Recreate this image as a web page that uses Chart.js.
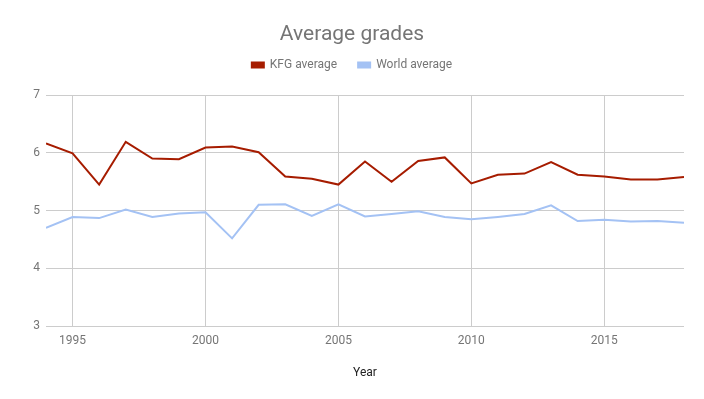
<!DOCTYPE html>
<html>
<head>
<meta charset="utf-8">
<script src="https://cdn.jsdelivr.net/npm/chart.js@4"></script>
<style>
  html, body { margin: 0; padding: 0; background: #fff; }
  #wrap { width: 704px; height: 399px; }
</style>
</head>
<body>
<div id="wrap"><canvas id="myChart"></canvas></div>
<script>
// Data
const years = [1994, 1995, 1996, 1997, 1998, 1999, 2000, 2001, 2002, 2003, 2004, 2005,
  2006, 2007, 2008, 2009, 2010, 2011, 2012, 2013, 2014, 2015, 2016, 2017, 2018]
const kfgAverage = [6.16, 5.99, 5.45, 6.19, 5.90, 5.89, 6.09, 6.11, 6.01, 5.59, 5.55, 5.45,
  5.85, 5.50, 5.86, 5.92, 5.47, 5.62, 5.64, 5.84, 5.62, 5.59, 5.54, 5.54, 5.58]
const worldAverage = [4.70, 4.89, 4.87, 5.02, 4.89, 4.95, 4.97, 4.52, 5.10, 5.11, 4.91, 5.11,
  4.90, 4.94, 4.99, 4.89, 4.85, 4.89, 4.94, 5.09, 4.82, 4.84, 4.81, 4.82, 4.79]
const yearTicks = [1995, 2000, 2005, 2010, 2015]

const grey = '#757575'
Chart.defaults.font.family = 'Roboto'

// extra space under the legend
const legendMargin = {
  id: 'legendMargin',
  beforeInit (chart) {
    const fit = chart.legend.fit
    chart.legend.fit = function () {
      fit.bind(chart.legend)()
      this.height += 14
    }
  }
}

const ctx = document.getElementById('myChart')
// eslint-disable-next-line no-unused-vars
const myChart = new Chart(ctx, {
  type: 'line',
  data: {
    datasets: [{
      label: 'KFG average',
      data: years.map((y, i) => ({ x: y, y: kfgAverage[i] })),
      borderColor: '#a61c00',
      backgroundColor: '#a61c00',
      borderWidth: 2,
      pointRadius: 0,
      tension: 0
    }, {
      label: 'World average',
      data: years.map((y, i) => ({ x: y, y: worldAverage[i] })),
      borderColor: '#a4c2f4',
      backgroundColor: '#a4c2f4',
      borderWidth: 2,
      pointRadius: 0,
      tension: 0
    }]
  },
  plugins: [legendMargin],
  options: {
    responsive: true,
    maintainAspectRatio: false,
    animation: false,
    layout: { padding: { left: 20, right: 20, top: 0, bottom: 15 } },
    plugins: {
      title: {
        display: true,
        text: 'Average grades',
        color: grey,
        font: { size: 21, weight: 'normal', lineHeight: 1 },
        padding: { top: 24, bottom: -7 }
      },
      legend: {
        labels: {
          color: grey,
          font: { size: 12 },
          boxWidth: 12,
          boxHeight: 5,
          padding: 21
        }
      },
      tooltip: { enabled: false }
    },
    scales: {
      x: {
        type: 'linear',
        min: 1994,
        max: 2018,
        afterBuildTicks: (scale) => { scale.ticks = yearTicks.map(v => ({ value: v })) },
        ticks: {
          color: grey,
          font: { size: 12 },
          padding: 8,
          callback: (v) => String(v)
        },
        grid: { color: '#cccccc', drawTicks: false },
        border: { display: false },
        title: {
          display: true,
          text: 'Year',
          color: '#222222',
          font: { size: 12 },
          padding: { top: 9 }
        }
      },
      y: {
        min: 3,
        max: 7,
        ticks: { stepSize: 1, color: grey, font: { size: 12 }, padding: 6 },
        grid: { color: '#cccccc', drawTicks: false },
        border: { display: false },
        afterFit: (scale) => { scale.width = 26 }
      }
    }
  }
})
</script>
</body>
</html>
